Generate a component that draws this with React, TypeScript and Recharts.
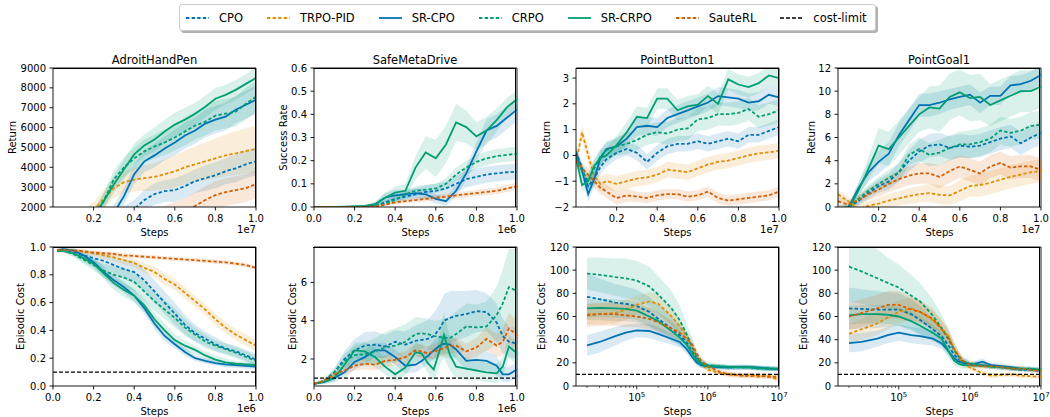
import React from "react";
import {
  ComposedChart,
  Line,
  Area,
  XAxis,
  YAxis,
  CartesianGrid,
  ReferenceLine,
  Label,
} from "recharts";

// layout of one subplot (plot area in px)
const PLOT_W = 203;
const PLOT_H = 139;
const Y_AXIS_W = 50;
const MARGIN_TOP = 20;
const MARGIN_RIGHT = 10;
const X_AXIS_H = 35;
const TICK_SIZE = 3.5;
const TICK_MARGIN = 4.5;
const FONT = '"DejaVu Sans", "Liberation Sans", sans-serif';
const DASH = "3.4 2.2";
const SPINE = { stroke: "#000", strokeWidth: 0.9 };

const SERIES = [
  { name: "CPO", color: "#0173b2", dashed: true },
  { name: "TRPO-PID", color: "#de8f05", dashed: true },
  { name: "SR-CPO", color: "#0173b2", dashed: false },
  { name: "CRPO", color: "#029e73", dashed: true },
  { name: "SR-CRPO", color: "#029e73", dashed: false },
  { name: "SauteRL", color: "#d55e00", dashed: true },
];

// ---------- x values ----------
const steps = [0, 0.05, 0.1, 0.15, 0.2, 0.25, 0.3, 0.35, 0.4, 0.45, 0.5, 0.55, 0.6, 0.65, 0.7, 0.75, 0.8, 0.85, 0.9, 0.95, 1];
const buttonSteps = [0, 0.03, 0.06, 0.09, 0.12, 0.15, 0.2, 0.25, 0.3, 0.35, 0.4, 0.45, 0.5, 0.55, 0.6, 0.65, 0.7, 0.75, 0.8, 0.85, 0.9, 0.95, 1];
const adroitCostSteps = [0.02, 0.05, 0.1, 0.15, 0.2, 0.25, 0.3, 0.35, 0.4, 0.45, 0.5, 0.55, 0.6, 0.65, 0.7, 0.75, 0.8, 0.85, 0.9, 0.95, 1];
const metaCostSteps = [0, 0.05, 0.1, 0.15, 0.2, 0.25, 0.3, 0.35, 0.4, 0.45, 0.5, 0.53, 0.56, 0.59, 0.62, 0.64, 0.67, 0.7, 0.75, 0.8, 0.85, 0.9, 0.93, 0.96, 1];
const logSteps = [2e4, 3e4, 5e4, 7e4, 1e5, 1.5e5, 2e5, 3e5, 4e5, 5e5, 6e5, 7e5, 8e5, 1e6, 1.5e6, 2e6, 3e6, 4e6, 5e6, 7e6, 1e7];

// ---------- AdroitHandPen return ----------
const adroitReturn: Record<string, number[]> = {
  CPO: [200, 400, 600, 800, 1000, 1200, 1450, 1650, 1900, 2350, 2650, 2800, 2850, 3050, 3300, 3450, 3600, 3800, 3950, 4150, 4300],
  "TRPO-PID": [300, 700, 1100, 1500, 1850, 2400, 2950, 3250, 3380, 3450, 3520, 3650, 3800, 4000, 4150, 4300, 4450, 4600, 4700, 4820, 4920],
  "SR-CPO": [0, 100, 250, 450, 700, 1100, 1700, 2550, 3650, 4300, 4600, 4950, 5250, 5600, 5850, 6200, 6400, 6550, 6900, 7150, 7400],
  CRPO: [50, 200, 500, 900, 1400, 2300, 3400, 4000, 4450, 4800, 5050, 5250, 5500, 5800, 6100, 6300, 6600, 6700, 6800, 7200, 7550],
  "SR-CRPO": [100, 300, 600, 1000, 1500, 2300, 3150, 3900, 4650, 5100, 5400, 5800, 6150, 6400, 6700, 7050, 7450, 7650, 7900, 8200, 8500],
  SauteRL: [200, 300, 400, 500, 600, 700, 800, 900, 1000, 1150, 1300, 1450, 1600, 1800, 2050, 2350, 2600, 2750, 2850, 2950, 3150],
};
const adroitReturnStd: Record<string, number[]> = {
  CPO: [200, 200, 200, 200, 250, 300, 350, 400, 450, 500, 550, 550, 600, 600, 600, 650, 650, 650, 700, 700, 700],
  "TRPO-PID": [300, 300, 300, 350, 400, 450, 500, 550, 600, 650, 700, 750, 800, 850, 900, 950, 1000, 1050, 1100, 1150, 1200],
  "SR-CPO": [200, 200, 200, 250, 300, 350, 400, 450, 500, 550, 600, 600, 650, 650, 650, 700, 700, 700, 700, 700, 700],
  CRPO: [200, 200, 250, 300, 350, 400, 450, 500, 550, 600, 600, 650, 650, 700, 700, 700, 750, 750, 750, 800, 800],
  "SR-CRPO": [200, 200, 250, 300, 350, 400, 450, 500, 550, 550, 600, 600, 600, 600, 550, 550, 550, 500, 500, 500, 500],
  SauteRL: [200, 200, 200, 250, 300, 350, 400, 450, 500, 550, 600, 600, 650, 650, 700, 700, 700, 700, 700, 700, 700],
};

// ---------- SafeMetaDrive success rate ----------
const metaSuccess: Record<string, number[]> = {
  CPO: [0, 0, 0, 0, 0, 0.002, 0.005, 0.02, 0.035, 0.045, 0.055, 0.065, 0.07, 0.08, 0.1, 0.12, 0.13, 0.14, 0.145, 0.15, 0.152],
  "SR-CPO": [0, 0, 0, 0, 0, 0.003, 0.01, 0.04, 0.05, 0.055, 0.06, 0.055, 0.035, 0.025, 0.07, 0.145, 0.24, 0.33, 0.35, 0.385, 0.42],
  CRPO: [0, 0, 0, 0, 0, 0.002, 0.006, 0.015, 0.03, 0.055, 0.07, 0.075, 0.08, 0.1, 0.14, 0.17, 0.195, 0.21, 0.22, 0.225, 0.23],
  "SR-CRPO": [0, 0, 0, 0.002, 0.004, 0.005, 0.012, 0.04, 0.062, 0.07, 0.17, 0.235, 0.21, 0.27, 0.365, 0.345, 0.305, 0.33, 0.375, 0.43, 0.465],
  SauteRL: [0, 0, 0, 0, 0, 0, 0.002, 0.01, 0.02, 0.025, 0.03, 0.035, 0.04, 0.045, 0.05, 0.055, 0.06, 0.065, 0.07, 0.08, 0.09],
};
const metaSuccessStd: Record<string, number[]> = {
  CPO: [0, 0, 0, 0, 0, 0, 0.005, 0.01, 0.015, 0.02, 0.025, 0.03, 0.03, 0.03, 0.035, 0.035, 0.035, 0.035, 0.035, 0.035, 0.035],
  "SR-CPO": [0, 0, 0, 0, 0, 0.003, 0.01, 0.02, 0.025, 0.02, 0.02, 0.02, 0.02, 0.02, 0.025, 0.03, 0.04, 0.05, 0.05, 0.05, 0.05],
  CRPO: [0, 0, 0, 0, 0, 0, 0.005, 0.01, 0.015, 0.02, 0.02, 0.02, 0.02, 0.025, 0.03, 0.03, 0.03, 0.03, 0.03, 0.03, 0.03],
  "SR-CRPO": [0, 0, 0, 0, 0, 0.003, 0.01, 0.02, 0.025, 0.03, 0.05, 0.07, 0.08, 0.08, 0.08, 0.07, 0.06, 0.06, 0.05, 0.04, 0.04],
  SauteRL: [0, 0, 0, 0, 0, 0, 0.003, 0.005, 0.008, 0.01, 0.01, 0.012, 0.012, 0.012, 0.013, 0.013, 0.013, 0.014, 0.015, 0.015, 0.015],
};

// ---------- PointButton1 return ----------
const buttonReturn: Record<string, number[]> = {
  CPO: [0.15, -0.5, -1.2, -0.9, -0.45, -0.15, 0.1, 0.25, 0.1, -0.25, 0.1, 0.35, 0.45, 0.45, 0.55, 0.45, 0.55, 0.65, 0.55, 0.8, 0.8, 0.95, 1.1],
  "TRPO-PID": [-0.3, 0.9, 0.0, -0.8, -1.1, -1.0, -1.1, -1.0, -0.9, -0.85, -0.75, -0.55, -0.6, -0.65, -0.5, -0.35, -0.25, -0.2, -0.1, 0.0, 0.08, 0.12, 0.18],
  "SR-CPO": [0.1, -0.6, -1.5, -0.9, -0.1, 0.25, 0.35, 0.65, 1.1, 1.15, 1.1, 1.45, 1.6, 1.75, 1.9, 2.05, 2.3, 2.25, 2.2, 2.05, 2.1, 2.35, 2.25],
  CRPO: [-0.1, -0.6, -1.0, -0.5, -0.05, 0.2, 0.35, 0.45, 0.6, 0.8, 0.9, 0.85, 1.0, 1.05, 1.4, 1.45, 1.6, 1.6, 1.65, 1.8, 1.5, 1.6, 1.75],
  "SR-CRPO": [-0.1, -1.15, -1.0, -0.4, -0.1, 0.0, 0.4, 0.9, 1.5, 1.45, 2.2, 2.2, 1.75, 1.9, 1.97, 2.3, 2.0, 2.95, 2.75, 2.65, 2.8, 3.1, 3.0],
  SauteRL: [-0.2, -0.5, -0.75, -1.0, -1.25, -1.4, -1.65, -1.55, -1.6, -1.65, -1.55, -1.5, -1.5, -1.6, -1.55, -1.4, -1.65, -1.75, -1.7, -1.65, -1.6, -1.55, -1.4],
};
const buttonReturnStd: Record<string, number[]> = {
  CPO: [0.2, 0.25, 0.3, 0.3, 0.3, 0.3, 0.25, 0.25, 0.3, 0.3, 0.3, 0.3, 0.3, 0.3, 0.3, 0.3, 0.3, 0.3, 0.3, 0.3, 0.3, 0.3, 0.3],
  "TRPO-PID": [0.25, 0.3, 0.35, 0.3, 0.3, 0.3, 0.3, 0.3, 0.3, 0.3, 0.3, 0.3, 0.3, 0.3, 0.3, 0.3, 0.3, 0.3, 0.3, 0.3, 0.3, 0.3, 0.3],
  "SR-CPO": [0.2, 0.25, 0.3, 0.3, 0.3, 0.3, 0.3, 0.3, 0.35, 0.35, 0.35, 0.35, 0.35, 0.35, 0.35, 0.35, 0.35, 0.35, 0.35, 0.35, 0.35, 0.35, 0.35],
  CRPO: [0.2, 0.25, 0.3, 0.3, 0.3, 0.3, 0.35, 0.4, 0.4, 0.4, 0.4, 0.45, 0.45, 0.45, 0.45, 0.45, 0.45, 0.45, 0.45, 0.45, 0.45, 0.45, 0.45],
  "SR-CRPO": [0.2, 0.25, 0.3, 0.3, 0.3, 0.3, 0.35, 0.4, 0.4, 0.4, 0.4, 0.4, 0.4, 0.4, 0.4, 0.4, 0.4, 0.4, 0.4, 0.4, 0.4, 0.4, 0.4],
  SauteRL: [0.15, 0.2, 0.25, 0.25, 0.25, 0.25, 0.25, 0.25, 0.2, 0.2, 0.2, 0.2, 0.2, 0.2, 0.2, 0.2, 0.2, 0.2, 0.2, 0.2, 0.2, 0.2, 0.2],
};

// ---------- PointGoal1 return ----------
const goalReturn: Record<string, number[]> = {
  CPO: [-0.2, 0.0, 0.5, 1.2, 1.8, 2.2, 3.0, 4.0, 4.8, 5.3, 5.4, 5.1, 5.3, 5.2, 5.3, 5.6, 5.9, 6.1, 5.5, 6.0, 6.4],
  "TRPO-PID": [1.1, 0.5, -0.2, 0.1, 0.3, 0.55, 0.75, 0.95, 1.1, 1.2, 1.05, 1.0, 1.4, 1.8, 1.9, 2.1, 2.35, 2.6, 2.8, 3.0, 3.1],
  "SR-CPO": [-0.5, -0.1, 1.6, 3.0, 3.9, 4.6, 6.2, 7.5, 8.8, 8.8, 9.0, 9.3, 9.5, 9.7, 9.0, 9.6, 9.6, 10.5, 10.6, 10.9, 11.4],
  CRPO: [-0.2, 0.0, 0.7, 1.4, 2.0, 2.5, 3.0, 4.5, 5.0, 4.5, 4.7, 5.1, 5.4, 5.4, 5.6, 5.9, 6.6, 6.4, 6.6, 7.0, 7.1],
  "SR-CRPO": [-0.5, -0.2, 1.4, 3.3, 5.3, 5.0, 6.0, 7.0, 8.0, 8.6, 8.5, 9.5, 9.9, 9.4, 9.5, 8.8, 9.2, 9.6, 10.0, 10.0, 10.4],
  SauteRL: [0.5, 0.2, 0.6, 1.1, 1.5, 2.0, 2.4, 2.7, 2.9, 2.9, 2.6, 3.1, 3.5, 3.2, 2.9, 3.5, 3.8, 3.4, 3.5, 3.5, 3.2],
};
const goalReturnStd: Record<string, number[]> = {
  CPO: [0.3, 0.3, 0.4, 0.5, 0.6, 0.7, 0.8, 0.9, 1.0, 1.0, 1.0, 1.0, 1.0, 1.0, 1.0, 1.0, 1.0, 1.0, 1.0, 1.0, 1.0],
  "TRPO-PID": [0.4, 0.4, 0.4, 0.4, 0.5, 0.6, 0.6, 0.7, 0.7, 0.8, 0.8, 0.8, 0.9, 0.9, 1.0, 1.0, 1.0, 1.0, 1.0, 1.0, 1.0],
  "SR-CPO": [0.3, 0.3, 0.5, 0.8, 1.0, 1.0, 1.0, 1.0, 1.0, 1.0, 1.0, 0.9, 0.9, 0.9, 0.9, 0.8, 0.8, 0.8, 0.8, 0.8, 0.8],
  CRPO: [0.3, 0.3, 0.4, 0.5, 0.6, 0.7, 0.8, 0.9, 1.0, 1.0, 1.1, 1.1, 1.1, 1.2, 1.2, 1.2, 1.2, 1.2, 1.2, 1.2, 1.2],
  "SR-CRPO": [0.3, 0.3, 0.6, 1.0, 1.5, 1.5, 1.5, 1.5, 1.5, 1.8, 2.0, 2.0, 2.0, 2.0, 2.0, 1.8, 1.8, 1.8, 1.8, 1.8, 1.8],
  SauteRL: [0.4, 0.4, 0.4, 0.5, 0.6, 0.7, 0.8, 0.8, 0.9, 0.9, 1.0, 1.0, 1.0, 1.0, 1.0, 1.0, 1.0, 1.0, 1.0, 1.0, 1.0],
};

// ---------- AdroitHandPen cost ----------
const adroitCost: Record<string, number[]> = {
  CPO: [0.98, 0.98, 0.965, 0.94, 0.92, 0.9, 0.87, 0.84, 0.82, 0.76, 0.68, 0.6, 0.52, 0.44, 0.38, 0.34, 0.3, 0.27, 0.25, 0.22, 0.19],
  "TRPO-PID": [0.98, 0.98, 0.975, 0.965, 0.955, 0.94, 0.925, 0.905, 0.885, 0.85, 0.82, 0.77, 0.73, 0.67, 0.61, 0.55, 0.48, 0.42, 0.37, 0.33, 0.29],
  "SR-CPO": [0.975, 0.985, 0.975, 0.94, 0.89, 0.82, 0.76, 0.71, 0.65, 0.56, 0.45, 0.36, 0.3, 0.245, 0.2, 0.18, 0.165, 0.155, 0.15, 0.145, 0.14],
  CRPO: [0.98, 0.975, 0.95, 0.91, 0.87, 0.83, 0.8, 0.78, 0.75, 0.68, 0.61, 0.55, 0.49, 0.42, 0.37, 0.32, 0.29, 0.265, 0.24, 0.21, 0.18],
  "SR-CRPO": [0.97, 0.97, 0.955, 0.92, 0.88, 0.81, 0.74, 0.69, 0.65, 0.58, 0.48, 0.4, 0.33, 0.29, 0.26, 0.22, 0.19, 0.17, 0.16, 0.155, 0.15],
  SauteRL: [0.98, 0.98, 0.975, 0.97, 0.96, 0.955, 0.95, 0.94, 0.935, 0.93, 0.925, 0.92, 0.915, 0.91, 0.905, 0.9, 0.895, 0.89, 0.88, 0.87, 0.85],
};
const adroitCostStd: Record<string, number[]> = {
  CPO: [0.01, 0.01, 0.02, 0.03, 0.04, 0.05, 0.06, 0.07, 0.08, 0.08, 0.08, 0.08, 0.08, 0.07, 0.06, 0.05, 0.05, 0.04, 0.04, 0.04, 0.04],
  "TRPO-PID": [0.01, 0.01, 0.015, 0.02, 0.02, 0.025, 0.03, 0.03, 0.03, 0.035, 0.04, 0.04, 0.04, 0.04, 0.04, 0.04, 0.04, 0.04, 0.04, 0.04, 0.04],
  "SR-CPO": [0.01, 0.01, 0.02, 0.03, 0.03, 0.04, 0.04, 0.04, 0.04, 0.04, 0.04, 0.04, 0.03, 0.03, 0.02, 0.02, 0.02, 0.02, 0.02, 0.02, 0.02],
  CRPO: [0.01, 0.01, 0.02, 0.03, 0.04, 0.05, 0.06, 0.07, 0.07, 0.07, 0.07, 0.07, 0.07, 0.06, 0.05, 0.05, 0.04, 0.04, 0.04, 0.04, 0.04],
  "SR-CRPO": [0.01, 0.01, 0.02, 0.03, 0.03, 0.04, 0.05, 0.05, 0.05, 0.05, 0.05, 0.05, 0.04, 0.04, 0.03, 0.03, 0.03, 0.03, 0.02, 0.02, 0.02],
  SauteRL: [0.01, 0.01, 0.01, 0.01, 0.01, 0.01, 0.015, 0.015, 0.015, 0.015, 0.015, 0.015, 0.015, 0.015, 0.015, 0.015, 0.015, 0.015, 0.015, 0.015, 0.015],
};

// ---------- SafeMetaDrive cost ----------
const metaCost: Record<string, number[]> = {
  CPO: [0.7, 0.85, 1.3, 2.0, 2.45, 2.7, 2.75, 2.65, 2.9, 2.75, 2.95, 3.0, 3.05, 3.2, 3.6, 4.0, 4.15, 4.25, 4.35, 4.5, 4.45, 3.9, 3.2, 2.9, 2.8],
  "SR-CPO": [0.7, 0.8, 1.0, 1.3, 1.85, 2.1, 2.45, 2.45, 2.1, 1.65, 1.7, 1.9, 2.15, 2.45, 2.7, 2.8, 2.75, 2.5, 1.9, 1.95, 1.9, 1.65, 1.2, 1.2, 1.45],
  CRPO: [0.7, 0.85, 1.3, 1.9, 2.2, 2.25, 2.4, 2.6, 2.7, 2.9, 3.3, 3.35, 3.3, 3.2, 3.15, 3.1, 3.1, 3.3, 3.7, 3.65, 3.7, 4.3, 4.9, 5.75, 5.55],
  "SR-CRPO": [0.72, 0.8, 1.0, 1.7, 2.45, 2.4, 2.1, 1.6, 1.2, 1.55, 2.35, 2.3, 1.8, 1.45, 2.5, 3.25, 2.2, 1.6, 1.5, 1.4, 1.3, 1.25, 1.6, 2.65, 2.3],
  SauteRL: [0.7, 0.85, 1.2, 1.4, 1.65, 1.75, 1.7, 1.9, 1.95, 2.1, 2.45, 2.4, 2.3, 2.4, 2.5, 2.55, 2.7, 2.7, 2.4, 2.6, 3.05, 2.7, 2.9, 3.6, 3.25],
};
const metaCostStd: Record<string, number[]> = {
  CPO: [0.05, 0.1, 0.2, 0.4, 0.6, 0.7, 0.7, 0.6, 0.6, 0.7, 0.8, 0.9, 1.0, 1.2, 1.3, 1.4, 1.4, 1.3, 1.2, 1.1, 1.0, 1.0, 0.9, 0.8, 0.8],
  "SR-CPO": [0.05, 0.1, 0.2, 0.3, 0.4, 0.4, 0.4, 0.4, 0.4, 0.4, 0.4, 0.4, 0.4, 0.5, 0.5, 0.5, 0.5, 0.5, 0.5, 0.5, 0.5, 0.5, 0.4, 0.4, 0.4],
  CRPO: [0.05, 0.1, 0.2, 0.4, 0.5, 0.6, 0.7, 0.8, 0.9, 0.9, 0.9, 0.8, 0.8, 0.8, 0.9, 1.0, 1.1, 1.2, 1.2, 1.2, 1.3, 1.5, 1.8, 2.0, 2.2],
  "SR-CRPO": [0.05, 0.1, 0.2, 0.3, 0.4, 0.5, 0.5, 0.4, 0.4, 0.4, 0.5, 0.5, 0.5, 0.6, 0.8, 1.2, 0.8, 0.6, 0.6, 0.5, 0.5, 0.5, 0.5, 0.6, 0.6],
  SauteRL: [0.05, 0.1, 0.15, 0.2, 0.25, 0.3, 0.3, 0.3, 0.3, 0.3, 0.35, 0.35, 0.35, 0.4, 0.4, 0.4, 0.4, 0.4, 0.4, 0.5, 0.6, 0.6, 0.7, 0.8, 0.8],
};

// ---------- PointButton1 cost (log steps) ----------
const buttonCost: Record<string, number[]> = {
  CPO: [77, 75, 72, 71, 69, 64, 58, 50, 44, 38, 30, 24, 20, 17.5, 16.5, 16, 16, 16.5, 15.5, 15, 14.5],
  "TRPO-PID": [62, 62, 63, 66, 70, 73, 71, 61, 52, 43, 33, 25, 19, 14, 11, 10, 9, 10, 8, 9, 5],
  "SR-CPO": [35, 38, 43, 46, 48, 47.5, 45, 41, 38, 32, 25, 20, 18, 17, 16, 16, 16.5, 16, 16, 15, 14.5],
  CRPO: [97, 96, 94, 93, 91, 86, 79, 68, 57, 45, 34, 25, 20, 18, 17, 16, 16.5, 16, 15, 15.5, 14.5],
  "SR-CRPO": [67, 67.5, 67, 66.5, 65, 60, 56, 48, 42, 36, 28, 22, 19, 17, 17, 16.5, 16, 16, 15.5, 15, 15],
  SauteRL: [61, 62, 62, 61, 60, 58, 55, 50, 46, 41, 36, 28, 22, 17, 12, 10, 9, 8.5, 9, 8, 8],
};
const buttonCostStd: Record<string, number[]> = {
  CPO: [20, 18, 16, 15, 14, 13, 12, 11, 9, 7, 5, 4, 3, 2, 2, 2, 2, 2, 2, 2, 2],
  "TRPO-PID": [9, 9, 9, 9, 8, 8, 8, 7, 6, 5, 4, 3, 3, 2, 2, 2, 2, 2, 2, 2, 2],
  "SR-CPO": [9, 9, 8, 7, 6, 6, 6, 5, 5, 4, 3, 3, 2, 2, 2, 2, 2, 2, 2, 2, 2],
  CRPO: [14, 15, 16, 17, 17, 17, 16, 15, 13, 10, 8, 5, 4, 3, 2, 2, 2, 2, 2, 2, 2],
  "SR-CRPO": [8, 8, 8, 8, 8, 8, 8, 7, 6, 5, 4, 3, 3, 2, 2, 2, 2, 2, 2, 2, 2],
  SauteRL: [10, 10, 10, 10, 9, 9, 8, 7, 6, 5, 4, 3, 3, 2, 2, 2, 2, 2, 2, 2, 2],
};

// ---------- PointGoal1 cost (log steps) ----------
const goalCost: Record<string, number[]> = {
  CPO: [67, 66.5, 66, 66, 66, 62, 57, 49, 43, 35, 27, 23, 21, 19, 18, 17, 16, 15, 14, 14, 13],
  "TRPO-PID": [45, 49, 54, 59, 64, 67, 64, 57, 50, 43, 32, 25, 19, 16, 11, 9, 9.5, 10, 9, 8.5, 8],
  "SR-CPO": [37, 38, 41, 44, 46, 44, 43, 41, 37, 30, 24, 21, 20, 18, 21, 18, 17, 16, 15, 14.5, 14],
  CRPO: [103, 99, 93, 89, 85, 78, 73, 61, 50, 40, 31, 25, 21, 19.5, 18, 17, 16, 15, 15, 15, 14],
  "SR-CRPO": [61, 62, 62, 61.5, 60, 56, 52, 46, 41, 30, 22, 19, 18, 18, 17.5, 16.5, 16, 15, 15, 14.5, 14],
  SauteRL: [60, 63, 67, 70, 70, 66, 64, 58, 49, 42, 32, 26, 22, 18, 17, 17, 16, 15, 15, 14, 13],
};
const goalCostStd: Record<string, number[]> = {
  CPO: [18, 17, 16, 15, 14, 13, 12, 10, 8, 6, 5, 4, 3, 2, 2, 2, 2, 2, 2, 2, 2],
  "TRPO-PID": [8, 9, 10, 10, 10, 10, 9, 8, 7, 6, 5, 4, 3, 2, 2, 2, 2, 2, 2, 2, 2],
  "SR-CPO": [8, 8, 7, 7, 7, 7, 7, 6, 5, 4, 3, 3, 2, 2, 3, 2, 2, 2, 2, 2, 2],
  CRPO: [30, 28, 25, 22, 20, 18, 16, 14, 12, 10, 8, 5, 4, 3, 2, 2, 2, 2, 2, 2, 2],
  "SR-CRPO": [8, 8, 8, 8, 8, 8, 8, 7, 6, 5, 4, 3, 3, 2, 2, 2, 2, 2, 2, 2, 2],
  SauteRL: [12, 12, 12, 12, 12, 11, 10, 9, 8, 6, 5, 4, 3, 3, 2, 2, 2, 2, 2, 2, 2],
};

// ---------- ticks ----------
const ticksNoZero = [0.2, 0.4, 0.6, 0.8, 1.0];
const ticksUnit = [0, 0.2, 0.4, 0.6, 0.8, 1.0];
const logMajor = [1e5, 1e6, 1e7];
const logTicks = [
  2e4, 3e4, 4e4, 5e4, 6e4, 7e4, 8e4, 9e4, 1e5,
  2e5, 3e5, 4e5, 5e5, 6e5, 7e5, 8e5, 9e5, 1e6,
  2e6, 3e6, 4e6, 5e6, 6e6, 7e6, 8e6, 9e6, 1e7,
];

const fmt1 = (v: number) => v.toFixed(1);
const fmtInt = (v: number) => (v < 0 ? "\u2212" + Math.abs(v) : String(v));

const COLS = [53, 313.5, 576, 837.5];
const ROWS = [68, 247];

const PANELS = [
  { title: "AdroitHandPen", left: COLS[0], top: ROWS[0], steps, mean: adroitReturn, std: adroitReturnStd, xTicks: ticksNoZero, yDomain: [2000, 9000], yTicks: [2000, 3000, 4000, 5000, 6000, 7000, 8000, 9000], yFmt: fmtInt, yLabel: "Return", yLabelX: 12, offset: "1e7" },
  { title: "SafeMetaDrive", left: COLS[1], top: ROWS[0], steps, mean: metaSuccess, std: metaSuccessStd, xTicks: ticksUnit, yDomain: [0, 0.6], yTicks: [0, 0.1, 0.2, 0.3, 0.4, 0.5, 0.6], yFmt: fmt1, yLabel: "Success Rate", yLabelX: 282.7, offset: "1e6" },
  { title: "PointButton1", left: COLS[2], top: ROWS[0], steps: buttonSteps, mean: buttonReturn, std: buttonReturnStd, xTicks: ticksNoZero, yDomain: [-2, 3.39], yTicks: [-2, -1, 0, 1, 2, 3], yFmt: fmtInt, yLabel: "Return", yLabelX: 546.7, offset: "1e7" },
  { title: "PointGoal1", left: COLS[3], top: ROWS[0], steps, mean: goalReturn, std: goalReturnStd, xTicks: ticksNoZero, yDomain: [0, 12], yTicks: [0, 2, 4, 6, 8, 10, 12], yFmt: fmtInt, yLabel: "Return", yLabelX: 810.7, offset: "1e7" },
  { title: "", left: COLS[0], top: ROWS[1], steps: adroitCostSteps, mean: adroitCost, std: adroitCostStd, xTicks: ticksUnit, yDomain: [0, 1], yTicks: [0, 0.2, 0.4, 0.6, 0.8, 1.0], yFmt: fmt1, yLabel: "Episodic Cost", yLabelX: 20.7, offset: "1e6", limit: 0.1 },
  { title: "", left: COLS[1], top: ROWS[1], steps: metaCostSteps, mean: metaCost, std: metaCostStd, xTicks: ticksUnit, yDomain: [0.59, 7.85], yTicks: [2, 4, 6], yFmt: fmtInt, yLabel: "Episodic Cost", yLabelX: 291.7, offset: "1e6", limit: 1 },
  { title: "", left: COLS[2], top: ROWS[1], steps: logSteps, mean: buttonCost, std: buttonCostStd, log: true, yDomain: [0, 120], yTicks: [0, 20, 40, 60, 80, 100, 120], yFmt: fmtInt, yLabel: "Episodic Cost", yLabelX: 541.7, offset: "", limit: 10 },
  { title: "", left: COLS[3], top: ROWS[1], steps: logSteps, mean: goalCost, std: goalCostStd, log: true, yDomain: [0, 120], yTicks: [0, 20, 40, 60, 80, 100, 120], yFmt: fmtInt, yLabel: "Episodic Cost", yLabelX: 802.7, offset: "", limit: 10 },
];

function LogTick(props: any) {
  const { x, y, payload } = props;
  const v = payload.value;
  const exp = Math.round(Math.log10(v));
  const major = logMajor.includes(v);
  const top = y - TICK_SIZE - TICK_MARGIN;
  return (
    <g>
      <line x1={x} x2={x} y1={top} y2={top + (major ? TICK_SIZE : 2)} stroke="#000" strokeWidth={major ? 0.8 : 0.6} />
      {major && (
        <text x={x} y={top + 15} textAnchor="middle" fontSize={10} fill="#000">
          10<tspan dy={-4} fontSize={7}>{exp}</tspan>
        </text>
      )}
    </g>
  );
}

function Panel({ p }: { p: any }) {
  const shown = SERIES.filter((s) => p.mean[s.name]);
  const data = p.steps.map((x: number, i: number) => {
    const row: Record<string, any> = { x };
    shown.forEach((s) => {
      const m = p.mean[s.name][i];
      const d = p.std[s.name][i];
      row[s.name] = m;
      row[s.name + "_band"] = [m - d, m + d];
    });
    return row;
  });
  const chartLeft = p.left - Y_AXIS_W;
  const chartTop = p.top - MARGIN_TOP;
  const xDomain = p.log ? [14000, 1e7] : [0, 1];

  return (
    <>
      <div style={{ position: "absolute", left: chartLeft, top: chartTop }}>
        <ComposedChart
          width={Y_AXIS_W + PLOT_W + MARGIN_RIGHT}
          height={MARGIN_TOP + PLOT_H + X_AXIS_H}
          data={data}
          margin={{ top: MARGIN_TOP, right: MARGIN_RIGHT, bottom: 0, left: 0 }}
        >
          {/* top and right spines drawn as grid lines at the plot edges */}
          <CartesianGrid
            horizontalPoints={[MARGIN_TOP]}
            verticalPoints={[Y_AXIS_W + PLOT_W]}
            stroke="#000"
            strokeWidth={0.9}
            strokeDasharray=""
            fill="none"
          />
          {p.log ? (
            <XAxis
              dataKey="x"
              type="number"
              scale="log"
              domain={xDomain}
              ticks={logTicks}
              interval={0}
              allowDataOverflow
              height={X_AXIS_H}
              tickSize={TICK_SIZE}
              tickMargin={TICK_MARGIN}
              axisLine={SPINE}
              tickLine={false}
              tick={<LogTick />}
            >
              <Label value="Steps" position="insideBottom" offset={6.5} fontSize={10} fill="#000" />
            </XAxis>
          ) : (
            <XAxis
              dataKey="x"
              type="number"
              domain={xDomain}
              ticks={p.xTicks}
              interval={0}
              allowDataOverflow
              height={X_AXIS_H}
              tickSize={TICK_SIZE}
              tickMargin={TICK_MARGIN}
              axisLine={SPINE}
              tickLine={SPINE}
              tick={{ fontSize: 10, fill: "#000" }}
              tickFormatter={fmt1}
            >
              <Label value="Steps" position="insideBottom" offset={6.5} fontSize={10} fill="#000" />
            </XAxis>
          )}
          <YAxis
            type="number"
            domain={p.yDomain}
            ticks={p.yTicks}
            interval={0}
            allowDataOverflow
            width={Y_AXIS_W}
            tickSize={TICK_SIZE}
            tickMargin={3.5}
            axisLine={SPINE}
            tickLine={SPINE}
            tick={{ fontSize: 10, fill: "#000" }}
            tickFormatter={p.yFmt}
          >
            <Label
              value={p.yLabel}
              angle={-90}
              position="insideLeft"
              offset={p.yLabelX - chartLeft}
              fontSize={10}
              fill="#000"
              style={{ textAnchor: "middle" }}
            />
          </YAxis>
          {shown.map((s) => (
            <Area
              key={s.name + "_band"}
              type="linear"
              dataKey={s.name + "_band"}
              stroke="none"
              fill={s.color}
              fillOpacity={0.15}
              isAnimationActive={false}
              activeDot={false}
              legendType="none"
            />
          ))}
          {shown.map((s) => (
            <Line
              key={s.name}
              type="linear"
              dataKey={s.name}
              stroke={s.color}
              strokeWidth={1.8}
              strokeDasharray={s.dashed ? DASH : undefined}
              dot={false}
              activeDot={false}
              isAnimationActive={false}
            />
          ))}
          {p.limit != null && (
            <ReferenceLine y={p.limit} stroke="#000" strokeWidth={1.3} strokeDasharray="4 2" />
          )}
        </ComposedChart>
      </div>
      {/* axes frame overlay: top and right spines */}
      <div
        style={{
          position: "absolute",
          left: Math.floor(p.left),
          top: p.top,
          width: PLOT_W,
          height: PLOT_H,
          boxSizing: "border-box",
          borderTop: "1px solid #000",
          borderRight: "1px solid #000",
          zIndex: 5,
          pointerEvents: "none",
        }}
      />
      {p.title && (
        <div
          style={{
            position: "absolute",
            left: p.left,
            width: PLOT_W,
            top: p.top - 16,
            lineHeight: "16px",
            textAlign: "center",
            fontSize: 11.5,
          }}
        >
          {p.title}
        </div>
      )}
      {p.offset && (
        <div
          style={{
            position: "absolute",
            left: p.left,
            width: PLOT_W,
            top: p.top + PLOT_H + 16,
            lineHeight: "14px",
            textAlign: "right",
            fontSize: 10,
          }}
        >
          {p.offset}
        </div>
      )}
    </>
  );
}

function LegendBox() {
  const items = [
    ...SERIES.map((s) => ({ name: s.name, color: s.color, dash: s.dashed ? DASH : undefined, w: 1.8 })),
    { name: "cost-limit", color: "#000", dash: "4 2", w: 1.3 },
  ];
  return (
    <div
      style={{
        position: "absolute",
        left: 179,
        top: 4,
        width: 697,
        height: 27,
        boxSizing: "border-box",
        border: "1px solid #cccccc",
        borderRadius: 3,
        boxShadow: "2px 2px 0 rgba(0,0,0,0.3)",
        background: "#fff",
        display: "flex",
        alignItems: "center",
        paddingLeft: 6,
        gap: 24,
        fontSize: 11.5,
        whiteSpace: "nowrap",
      }}
    >
      {items.map((it) => (
        <div key={it.name} style={{ display: "flex", alignItems: "center" }}>
          <svg width={23} height={8}>
            <line x1={0} x2={23} y1={4} y2={4} stroke={it.color} strokeWidth={it.w} strokeDasharray={it.dash} />
          </svg>
          <span style={{ marginLeft: 10 }}>{it.name}</span>
        </div>
      ))}
    </div>
  );
}

export default function App() {
  return (
    <div
      style={{
        position: "absolute",
        left: 0,
        top: 0,
        width: 1050,
        height: 417,
        background: "#fff",
        overflow: "hidden",
        fontFamily: FONT,
        color: "#000",
      }}
    >
      <LegendBox />
      {PANELS.map((p, i) => (
        <Panel key={i} p={p} />
      ))}
    </div>
  );
}
